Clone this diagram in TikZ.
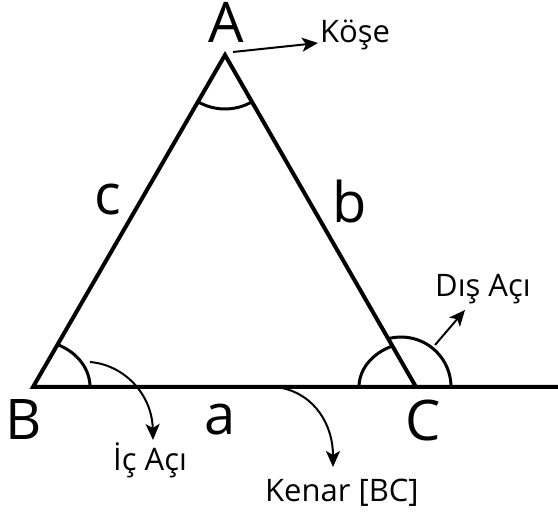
\documentclass[tikz,border=0pt]{standalone}
\usepackage{fontspec}
\setmainfont{Open Sans}
\usepackage{tikz}
\usetikzlibrary{positioning,arrows.meta,calc}

\begin{document}
\begin{tikzpicture}[x=1pt,y=1pt,
    side/.style={line width=4pt, line join=miter},
    angmark/.style={line width=3pt},
    pointer/.style={line width=2pt, arrows={-{Stealth[length=16pt,width=14pt,inset=4pt]}}},
    bigletter/.style={inner sep=0pt, anchor=base, font=\fontsize{56}{60}\selectfont},
    note/.style={inner sep=0pt, anchor=base west, font=\fontsize{31}{36}\selectfont}]

    \useasboundingbox (0,0) rectangle (558,514);

    % vertices
    \coordinate (A) at (225,459);
    \coordinate (B) at (33,127);
    \coordinate (C) at (416,127);
    \coordinate (E) at (560,127);
    \coordinate (Cx) at (401,127);

    \draw[side] (E) -- (B) -- (A) -- (C);

    % angle marks
    \draw[angmark] ([shift={(240:54)}]A) arc[start angle=240, end angle=300, radius=54];
    \draw[angmark] ($(B)+(57,0)$) arc[start angle=0, end angle=64.5, x radius=57, y radius=47];
    \draw[angmark] ($(C)+(-57,0)$) arc[start angle=180, end angle=114.5, x radius=57, y radius=45];
    \draw[angmark] ($(Cx)+(50,0)$) arc[start angle=0, end angle=104.9, radius=50];

    % letters
    \node[bigletter] (lA) at (226.5,471) {A};
    \node[bigletter] (lB) at (23.5,74) {B};
    \node[bigletter] (lC) at (423.5,73) {C};
    \node[bigletter] (la) at (220,79) {a};
    \node[bigletter] (lb) at (350,291) {b};
    \node[bigletter] (lc) at (107.5,299) {c};

    % notes
    \node[note] (kose) at (320,471) {Köşe};
    \node[note] (dis) at (435,217) {Dış Açı};
    \node[note] (ic) at (113,43) {İç Açı};
    \node[note] (kenar) at (265,12) {Kenar [BC]};

    \coordinate (koseT) at (233,462);
    \coordinate (koseH) at (318,471);
    \coordinate (disT) at (435,169);
    \coordinate (disH) at (465,204);
    \coordinate (icT) at (90,152);
    \coordinate (icH) at (153,74);
    \coordinate (kenarT) at (282,126);
    \coordinate (kenarH) at (333,47);

    \draw[pointer] (koseT) -- (koseH);
    \draw[pointer] (disT) -- (disH);
    \draw[pointer] (icT) .. controls (125,149) and (152,119) .. (icH);
    \draw[pointer] (kenarT) .. controls (315,119) and (333,89) .. (kenarH);

\end{tikzpicture}
\end{document}
